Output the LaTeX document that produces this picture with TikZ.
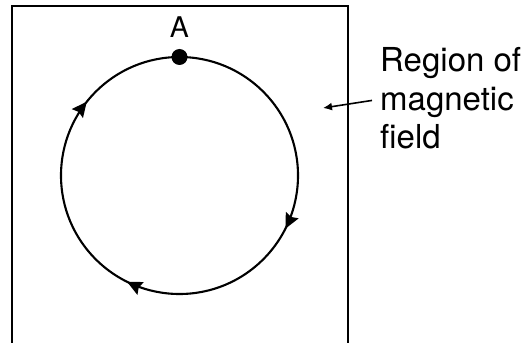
\documentclass[tikz,border=0pt]{standalone}
\usepackage{fontspec}
\setmainfont{TeX Gyre Heros}
\usetikzlibrary{decorations.markings,arrows.meta}
\tikzset{headtip/.tip={Stealth[length=15pt,width=14pt,inset=2pt]}}
\begin{document}
\begin{tikzpicture}[x=1pt,y=-1pt,
  reglbl/.style={font=\fontsize{33}{38.4}\selectfont, inner sep=0pt},
  alabel/.style={font=\fontsize{28.5}{32}\selectfont, inner sep=0pt},
  orbit/.style={line width=2.1pt},
  frame/.style={line width=1.9pt}]
\useasboundingbox (0,0) rectangle (526,342);
% region of magnetic field (open at the bottom)
\draw[frame] (12,345) -- (12,6) -- (348,6) -- (348,345);
% point A
\node[circle, fill, inner sep=0pt, minimum size=16pt] (A) at (179.5,57) {};
\node[alabel, anchor=base] (Alab) at (179.5,37.5) {A};
% circular path, clockwise from A
\draw[orbit, postaction=decorate, decoration={markings,
    mark=at position 0.324 with {\arrow{headtip}},
    mark=at position 0.573 with {\arrow{headtip}},
    mark=at position 0.857 with {\arrow{headtip}}}]
  (A.center) arc[start angle=90, end angle=-270, radius=118.5pt];
% label and pointer
\node[reglbl, align=left, anchor=north west] (reg) at (380,47.5) {Region of\\magnetic\\field};
\coordinate (tip) at (323,108);
\draw[line width=1.6pt, -{Latex[length=9pt,width=8pt]}] ([shift={(-8,2)}]reg.west) -- (tip);
\end{tikzpicture}
\end{document}
